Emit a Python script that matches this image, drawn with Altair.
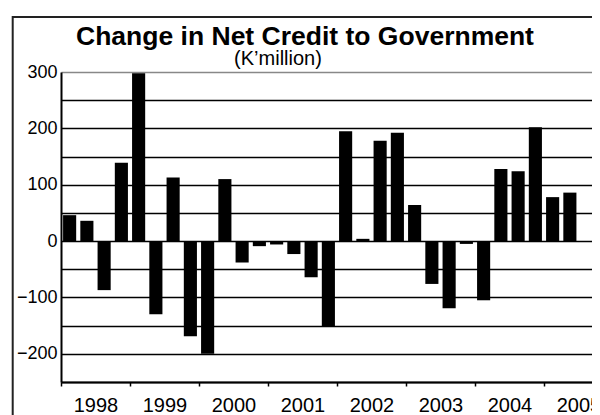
import json
import altair as alt
import pandas as pd

# Quarterly change in net credit to government, 1998Q1 .. 2005Q2 (K'million)
quarter_index = list(range(30))
values = [46, 36, -87, 139,
          298, -130, 113, -169,
          -200, 110, -38, -9,
          -6, -23, -64, -151,
          195, 4, 178, 192,
          64, -76, -119, -5,
          -105, 128, 124, 202,
          78, 86]
year_labels = ["1998", "1999", "2000", "2001", "2002", "2003", "2004", "2005"]
title_text = "Change in Net Credit to Government"
subtitle_text = "(K\u2019million)"

df = pd.DataFrame({"i": quarter_index, "value": values})

FONT = "Liberation Sans"
PX_PER_Q = 17.25
PLOT_W = 531
x_scale = alt.Scale(domain=[0, PLOT_W / PX_PER_Q], nice=False, zero=False)
y_scale = alt.Scale(domain=[-250, 300], nice=False, zero=False)

x_axis = alt.Axis(
    values=list(range(0, 32, 4)),
    labelExpr=f"{json.dumps(year_labels)}[datum.value / 4]",
    labelOffset=2 * PX_PER_Q,
    labelFlush=False,
    labelOverlap=False,
    labelFont=FONT,
    labelFontSize=20,
    labelColor="black",
    labelPadding=9,
    tickSize=4,
    tickColor="black",
    tickWidth=1.5,
    domainColor="black",
    domainWidth=2,
    grid=False,
    title=None,
)
y_axis = alt.Axis(
    values=list(range(-250, 301, 50)),
    labelExpr="datum.value % 100 === 0 ? datum.label : ''",
    labelFont=FONT,
    labelFontSize=18,
    labelColor="black",
    labelPadding=4,
    ticks=False,
    domainColor="black",
    domainWidth=2,
    grid=True,
    gridColor={"condition": {"test": "datum.value === 300", "value": "#888888"}, "value": "black"},
    gridWidth=1.5,
    title=None,
)

frame = alt.Chart(pd.DataFrame({"k": [0]})).mark_rect(
    filled=False, stroke="#222222", strokeWidth=2
).encode(
    x=alt.value(-48.3), x2=alt.value(700), y=alt.value(-55), y2=alt.value(500)
)

bars = alt.Chart(df).transform_calculate(
    x0="datum.i + 0.12", x1="datum.i + 0.88"
).mark_bar(color="black", clip=True).encode(
    x=alt.X("x0:Q", scale=x_scale, axis=x_axis),
    x2="x1:Q",
    y=alt.Y("value:Q", scale=y_scale, axis=y_axis),
    y2=alt.datum(0),
)

title = alt.Chart(pd.DataFrame({"t": [title_text]})).mark_text(
    font=FONT, fontSize=26.5, fontWeight="bold", align="center", baseline="alphabetic", color="black"
).encode(text="t:N", x=alt.value(244), y=alt.value(-26.8))

subtitle = alt.Chart(pd.DataFrame({"t": [subtitle_text]})).mark_text(
    font=FONT, fontSize=20, align="center", baseline="alphabetic", color="black"
).encode(text="t:N", x=alt.value(217), y=alt.value(-7.2))

chart = alt.layer(frame, bars, title, subtitle).properties(
    width=PLOT_W,
    height=310,
    autosize=alt.AutoSizeParams(type="none"),
    padding={"left": 53, "top": 64, "right": 0, "bottom": 33},
    background="white",
).configure_view(stroke=None)

chart.save("out.html", embed_options={"renderer": "svg", "actions": False})
